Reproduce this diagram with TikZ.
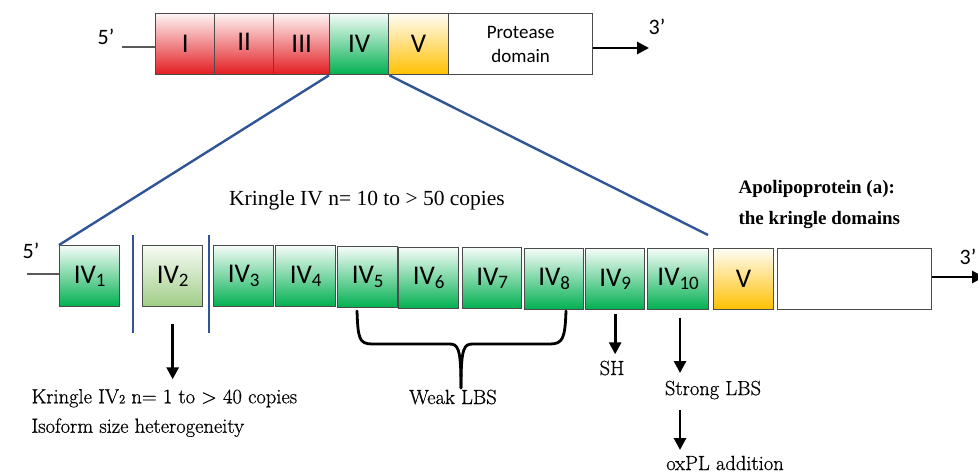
\documentclass[tikz,border=0pt]{standalone}
\usepackage{fontspec}
\newfontfamily\carl{Carlito}
\newfontfamily\tms{Liberation Serif}
\newfontfamily\lmr{Latin Modern Roman}[FakeBold=0.6]
\usetikzlibrary{arrows.meta}
\definecolor{kred}{RGB}{226,28,33}
\definecolor{kgreen}{RGB}{0,176,80}
\definecolor{klgreen}{RGB}{160,205,135}
\definecolor{korange}{RGB}{255,192,0}
\definecolor{kblue}{RGB}{47,85,151}
\definecolor{kborder}{RGB}{75,75,75}
\newcommand\ksub[1]{\raisebox{-3.5pt}{\fontsize{19}{19}\selectfont #1}}
\begin{document}
\begin{tikzpicture}[x=1pt,y=-1pt,
  box/.style={draw=kborder, line width=1.3pt, minimum width=#1, minimum height=61pt,
    inner sep=0pt, anchor=north west, font=\carl\fontsize{27}{27}\selectfont},
  redfill/.style={top color=kred!5, middle color=kred!50, bottom color=kred},
  greenfill/.style={top color=kgreen!4, middle color=kgreen!45, bottom color=kgreen},
  lgreenfill/.style={top color=klgreen!8, middle color=klgreen!60, bottom color=klgreen},
  orangefill/.style={top color=korange!4, middle color=korange!45, bottom color=korange},
  thinline/.style={draw={rgb,255:red,90;green,90;blue,90}, line width=1.2pt},
  blueline/.style={draw=kblue, line width=2.4pt},
  arr/.style={line width=2.8pt, -{Triangle[length=12pt,width=12pt]}},
  brace/.style={line width=2.8pt, line cap=round},
  serif/.style={font=\lmr\fontsize{20.5}{29.5}\selectfont},
  label5/.style={font=\carl\fontsize{22}{22}\selectfont}
]
\useasboundingbox (0,0) rectangle (978,473);

% ---------- top row ----------
\node[box=59pt, redfill] (tI) at (155,13) {I};
\node[box=59pt, redfill] (tII) at (214,13) {\raisebox{5pt}{II}};
\node[box=56pt, redfill] (tIII) at (273,13) {III};
\node[box=59pt, greenfill] (tIV) at (329,13) {IV};
\node[box=60pt, orangefill] (tV) at (388,13) {V};
\node[box=144pt, fill=white, font=\carl\fontsize{19}{24}\selectfont, align=center] (tP) at (448,13) {Protease\\domain};

\node[label5] (t5) at (106,37) {5’};
\coordinate (t5a) at (122,47);
\draw[thinline] (t5a) -- (t5a -| tI.west);
\coordinate (t3a) at (649,48);
\draw[arr] (t3a -| tP.east) -- (t3a);
\node[label5] (t3) at (657,27) {3’};

% ---------- bottom row ----------
\node[box=60pt, greenfill] (b1) at (59,245) {IV\ksub{1}};
\node[box=60pt, lgreenfill] (b2) at (142,245) {IV\ksub{2}};
\node[box=60pt, greenfill] (b3) at (213,245) {IV\ksub{3}};
\node[box=60pt, greenfill] (b4) at (275,245) {IV\ksub{4}};
\node[box=60pt, greenfill] (b5) at (337,246) {IV\ksub{5}};
\node[box=60pt, greenfill] (b6) at (398,247) {IV\ksub{6}};
\node[box=59pt, greenfill] (b7) at (462,247) {IV\ksub{7}};
\node[box=59pt, greenfill] (b8) at (524,248) {IV\ksub{8}};
\node[box=59pt, greenfill] (b9) at (585,248) {IV\ksub{9}};
\node[box=61pt, greenfill] (b10) at (647,248) {IV\ksub{10}};
\node[box=60pt, orangefill] (bV) at (713,248) {V};
\node[box=154pt, fill=white] (bW) at (777,248) {};

\node[label5] (b5p) at (31,251) {5’};
\coordinate (b5a) at (27,274);
\draw[thinline] (b5a) -- (b5a -| b1.west);
\coordinate (b3a) at (984,277);
\draw[arr] (b3a -| bW.east) -- (b3a);
\node[label5, inner sep=1pt] (b3p) at (968,257) {3’};

% separators
\coordinate (s1t) at (133,235); \coordinate (s1b) at (133,333);
\coordinate (s2t) at (209,235); \coordinate (s2b) at (209,333);
\draw[blueline] (s1t) -- (s1b);
\draw[blueline] (s2t) -- (s2b);

% zoom lines
\coordinate (zend) at (708,235);
\draw[blueline] (tIV.south west) -- (b1.north west);
\draw[blueline] (tIV.south east) -- (zend);

% texts
\node[font=\tms\fontsize{21.5}{21.5}\selectfont] (kiv) at (367,200) {Kringle IV n= 10 to > 50 copies};
\node[font=\tms\bfseries\fontsize{19}{31}\selectfont, align=left, anchor=west] (apo) at (735,205)
  {Apolipoprotein (a):\\the kringle domains};

\node[serif, anchor=west, align=left] (k2) at (28,413)
  {Kringle IV{\fontsize{12.5}{12.5}\selectfont 2} n= 1 to > 40 copies\\Isoform size heterogeneity};

% IV2 arrow
\draw[arr] ([yshift=-17pt]b2.south) -- ([yshift=-72pt]b2.south);

% brace for weak LBS
\coordinate (brL) at (357,311);
\coordinate (brR) at (566,311);
\coordinate (brC) at (461,388);
\draw[brace] (brL) .. controls (358,338) and (359,344) .. (372,344) -- (449,344)
  .. controls (458,344) and (461,347) .. (brC);
\draw[brace] (brR) .. controls (565,338) and (563,344) .. (550,344) -- (473,344)
  .. controls (464,344) and (461,347) .. (brC);
\node[serif] (weak) at (453,397) {Weak LBS};

% SH
\draw[arr] ([yshift=-4pt]b9.south) -- ([yshift=-44pt]b9.south);
\node[serif] (sh) at (612,368) {SH};

% strong LBS
\coordinate (st1) at (680,318); \coordinate (st2) at (680,373);
\draw[arr] (st1) -- (st2);
\node[serif] (strong) at (713,390) {Strong LBS};
\coordinate (ox1) at (680,410); \coordinate (ox2) at (680,450);
\draw[arr] (ox1) -- (ox2);
\node[serif] (ox) at (725,463) {oxPL addition};
\end{tikzpicture}
\end{document}
